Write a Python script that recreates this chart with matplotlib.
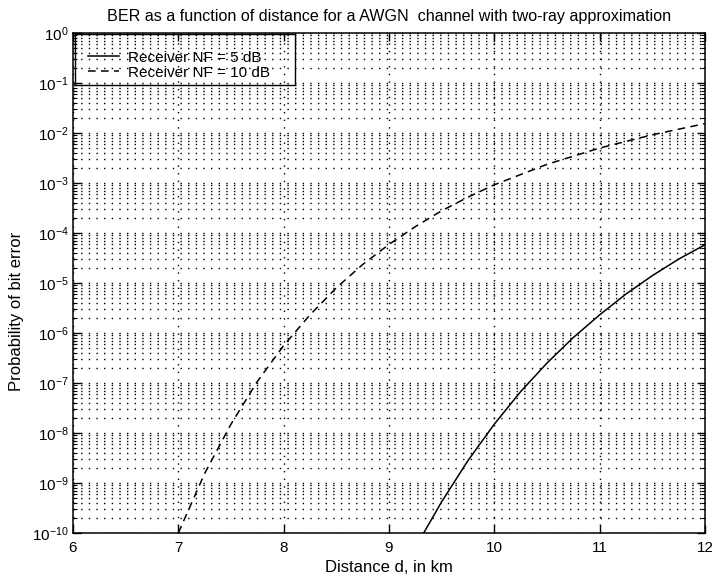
import numpy as np
import matplotlib
matplotlib.use("Agg")
import matplotlib.pyplot as plt
from matplotlib.patches import Rectangle
from matplotlib.ticker import LogLocator, LogFormatterMathtext, NullFormatter

plt.rcParams['font.family'] = ['Liberation Sans', 'DejaVu Sans']
plt.rcParams['mathtext.fontset'] = 'custom'
plt.rcParams['mathtext.rm'] = 'Liberation Sans'
plt.rcParams['mathtext.it'] = 'Liberation Sans:italic'
plt.rcParams['mathtext.bf'] = 'Liberation Sans:bold'

# valeurs
d_nf5 = [9.33, 9.5, 9.75, 10.0, 10.25, 10.5, 10.75, 11.0, 11.25, 11.5, 11.75, 12.0]
ber_nf5 = [1.0e-10, 4.2e-10, 2.8e-9, 1.5e-8, 6.7e-8, 2.5e-7, 8.1e-7, 2.3e-6,
           6.0e-6, 1.4e-5, 3.0e-5, 5.8e-5]

d_nf10 = [7.0, 7.25, 7.5, 7.75, 8.0, 8.25, 8.5, 8.75, 9.0, 9.25, 9.5, 9.75,
          10.0, 10.5, 11.0, 11.5, 12.0]
ber_nf10 = [1.0e-10, 1.55e-9, 1.5e-8, 1.07e-7, 5.6e-7, 2.3e-6, 8.0e-6, 2.34e-5,
            5.9e-5, 1.34e-4, 2.78e-4, 5.2e-4, 9.2e-4, 2.36e-3, 5.0e-3, 9.2e-3, 1.54e-2]

labels = ["Receiver NF = 5 dB", "Receiver NF = 10 dB"]
xticks = [6, 7, 8, 9, 10, 11, 12]

fig = plt.figure(figsize=(7.12, 5.79), dpi=100)
ax = fig.add_axes([0.1025, 0.0794, 0.8875, 0.8636])

ax.semilogy(d_nf5, ber_nf5, '-', color='black', lw=1.1, label=labels[0])
ax.semilogy(d_nf10, ber_nf10, color='black', lw=1.1, dashes=(5, 3.5), label=labels[1])

ax.set_xlim(6, 12)
ax.set_ylim(1e-10, 1)
ax.set_xticks(xticks)
ax.yaxis.set_major_locator(LogLocator(base=10, numticks=20))
ax.yaxis.set_major_formatter(LogFormatterMathtext())
ax.yaxis.set_minor_locator(LogLocator(base=10, subs=np.arange(2, 10), numticks=20))
ax.yaxis.set_minor_formatter(NullFormatter())

ax.grid(True, which='major', color='black', lw=1.0, linestyle=(0, (1, 4.5)))
ax.grid(True, which='minor', axis='y', color='black', lw=1.0, linestyle=(0, (1, 4.5)))

ax.tick_params(which='both', direction='in', top=True, right=True, labelsize=11, colors='black')
ax.tick_params(which='major', length=6, width=1)
ax.tick_params(which='minor', length=3, width=0.8)
ax.tick_params(axis='y', pad=3)
ax.tick_params(axis='x', pad=6)
for s in ax.spines.values():
    s.set_linewidth(1.1)

ax.set_title("BER as a function of distance for a AWGN  channel with two-ray approximation",
             fontsize=11.6, pad=9)
ax.set_xlabel("Distance d, in km", fontsize=12, labelpad=3)
ax.set_ylabel("Probability of bit error", fontsize=12)
ax.yaxis.set_label_coords(-0.078, 0.444)

# légende façon MATLAB
leg = ax.legend(loc='upper left', bbox_to_anchor=(0.0237, 0.965), frameon=False,
                fontsize=11, handlelength=2.0, handletextpad=0.6, borderpad=0,
                borderaxespad=0, labelspacing=0.08)
ax.add_patch(Rectangle((0.003, 0.896), 0.348, 0.102, transform=ax.transAxes,
                       fill=False, edgecolor='black', lw=1.0, zorder=5))

fig.savefig("out.png", dpi=100)
